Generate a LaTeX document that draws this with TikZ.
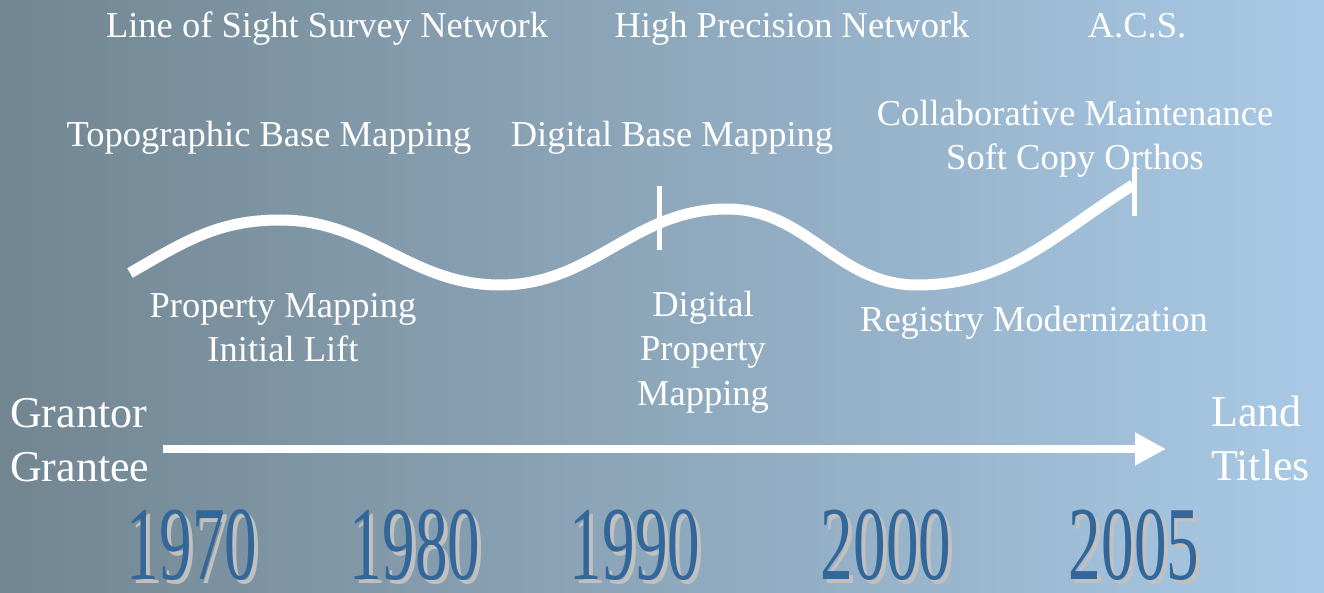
\documentclass[tikz,border=0pt]{standalone}
\usepackage{graphicx}
\usepackage{fontspec}
\setmainfont{Liberation Serif}
\usetikzlibrary{arrows.meta, positioning}

\definecolor{bgleft}{HTML}{728691}
\definecolor{bgright}{HTML}{A9C9E6}
\definecolor{yearblue}{HTML}{336699}
\definecolor{yearshade}{HTML}{C0C0C0}

\tikzset{
  txt/.style={text=white, inner sep=0pt, anchor=base, align=center,
    font=\fontsize{36.5}{44.5}\selectfont},
  bigtxt/.style={text=white, inner sep=0pt, anchor=base west, align=left,
    font=\fontsize{44}{54}\selectfont},
  year/.style={text=yearblue, inner sep=0pt, anchor=base,
    font=\fontsize{105}{105}\selectfont},
  yearback/.style={year, text=yearshade},
  tick/.style={draw=white, line width=5pt},
}

\begin{document}
\begin{tikzpicture}[x=1pt, y=1pt]
    \shade[left color=bgleft, right color=bgright] (0,0) rectangle (1324,592);
    \useasboundingbox (0,0) rectangle (1324,592);

    % labels above the wave
    \node[txt] (los) at (327,554) {Line of Sight Survey Network};
    \node[txt] (hpn) at (792,554) {High Precision Network};
    \node[txt] (acs) at (1137,554) {A.C.S.};
    \node[txt] (topo) at (269,445) {Topographic Base Mapping};
    \node[txt] (dbm) at (672,445) {Digital Base Mapping};
    \node[txt] (collab) at (1075,422) {Collaborative Maintenance\\Soft Copy Orthos};

    % labels below the wave (anchored on the last line)
    \node[txt] (propmap) at (283,230) {Property Mapping\\Initial Lift};
    \node[txt] (dpm) at (703,187) {Digital\\Property\\Mapping};
    \node[txt] (registry) at (1034,260) {Registry Modernization};

    % the wave with its two ticks
    \coordinate (w0) at (130,319);
    \coordinate (w1) at (280,372);
    \coordinate (w2) at (500,307);
    \coordinate (w3) at (727,383);
    \coordinate (w4) at (917,307);
    \coordinate (w5) at (1133,407);
    \draw[white, line width=11pt] (w0) to[out=30,in=180] (w1) to[out=0,in=180] (w2)
      to[out=0,in=180] (w3) to[out=0,in=180] (w4) to[out=0,in=212] (w5);
    \draw[tick] (659,406) -- (659,342);
    \draw[tick] (1134,425) -- (1134,376);

    % time arrow
    \node[bigtxt] (grantor) at (10,111) {Grantor\\Grantee};
    \node[bigtxt] (land) at (1211,112) {Land\\Titles};
    \coordinate (tstart) at (163,143);
    \coordinate (tend) at (1166,143);
    \draw[white, line width=8pt, -{Triangle[length=31pt, width=31pt]}] (tstart) -- (tend);

    % years with their shadow
    \foreach \yr/\xc in {1970/192, 1980/415, 1990/635, 2000/886, 2005/1134} {
      \node[yearback] (s\yr) at (\xc+4,9) {\scalebox{0.62}[1]{\yr}};
      \node[year] (y\yr) at (\xc,13) {\scalebox{0.62}[1]{\yr}};
    }
\end{tikzpicture}
\end{document}
